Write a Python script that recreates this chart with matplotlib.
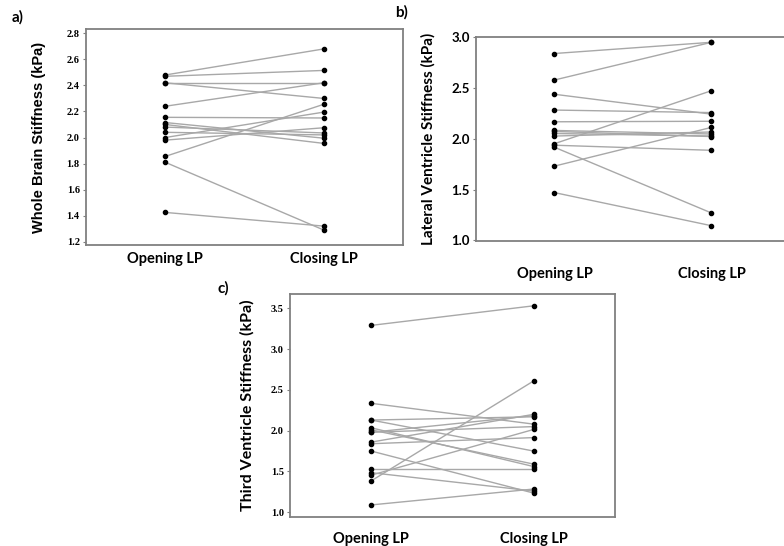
import matplotlib
matplotlib.use("Agg")
import matplotlib.pyplot as plt

# --- data (paired opening / closing LP values) ---
GROUPS = ["Opening LP", "Closing LP"]

WB_OPEN = [2.48, 2.47, 2.42, 2.42, 2.24, 2.155, 2.115, 2.10, 2.08, 2.04, 2.00, 1.98, 1.855, 1.81, 1.425]
WB_CLOSE = [2.68, 2.515, 2.42, 2.30, 2.42, 2.15, 1.995, 1.955, 2.035, 2.02, 2.195, 2.075, 2.255, 1.29, 1.32]
WB_TICKS = [1.2, 1.4, 1.6, 1.8, 2.0, 2.2, 2.4, 2.6, 2.8]

LV_OPEN = [2.835, 2.575, 2.435, 2.28, 2.165, 2.08, 2.07, 2.05, 2.025, 1.95, 1.935, 1.915, 1.73, 1.47]
LV_CLOSE = [2.945, 2.945, 2.24, 2.255, 2.17, 2.045, 2.02, 2.025, 2.065, 2.47, 1.885, 1.27, 2.11, 1.145]
LV_TICKS = [1.0, 1.5, 2.0, 2.5, 3.0]

TV_OPEN = [3.29, 2.335, 2.13, 2.13, 2.035, 2.01, 1.98, 1.98, 1.86, 1.84, 1.75, 1.525, 1.485, 1.455, 1.385, 1.09]
TV_CLOSE = [3.53, 2.08, 2.17, 1.75, 1.56, 1.59, 2.185, 2.05, 2.20, 1.915, 1.235, 1.525, 1.26, 2.015, 2.61, 1.285]
TV_TICKS = [1.0, 1.5, 2.0, 2.5, 3.0, 3.5]

LINE_COLOR = "#a8a8a8"
SPINE_COLOR = "#808080"
SANS = ["Lato", "DejaVu Sans"]
SERIF = ["Liberation Serif", "DejaVu Serif"]


def paired_panel(fig, rect, opening, closing, ticks, ylim, ylabel, tick_font,
                 tick_size, xpad, label_x, label_size, letter, letter_xy, label_font):
    ax = fig.add_axes(rect)
    for o, c in zip(opening, closing):
        ax.plot([1, 2], [o, c], color=LINE_COLOR, linewidth=1.0, zorder=1)
    ax.scatter([1] * len(opening), opening, s=9, color="black", zorder=2)
    ax.scatter([2] * len(closing), closing, s=9, color="black", zorder=2)
    ax.set_xlim(0.5, 2.5)
    ax.set_ylim(*ylim)
    ax.set_xticks([1, 2])
    ax.set_xticklabels(GROUPS, fontfamily=SANS, fontweight="bold", fontsize=10.5)
    ax.tick_params(axis="x", length=0, pad=xpad)
    ax.set_yticks(ticks)
    ax.set_yticklabels([f"{t:.1f}" for t in ticks], fontfamily=tick_font,
                       fontweight="bold", fontsize=tick_size)
    ax.tick_params(axis="y", length=2.5, width=0.8, color=SPINE_COLOR, pad=2)
    for sp in ax.spines.values():
        sp.set_color(SPINE_COLOR)
        sp.set_linewidth(1.3)
    ax.set_ylabel(ylabel, fontfamily=label_font, fontweight="bold", fontsize=label_size)
    ax.yaxis.set_label_coords(label_x, 0.5)
    fig.text(letter_xy[0], letter_xy[1], letter, fontfamily=SANS, fontweight="bold",
             fontsize=11, ha="left", va="center")
    return ax


fig = plt.figure(figsize=(7.84, 5.46), dpi=100)

paired_panel(fig, [0.1097, 0.5513, 0.4043, 0.3951], WB_OPEN, WB_CLOSE, WB_TICKS,
             (1.175, 2.831), "Whole Brain Stiffness (kPa)", SERIF, 7.5, 5,
             -0.125, 10.5, "a)", (0.015, 0.968), ["Liberation Sans", "DejaVu Sans"])

paired_panel(fig, [0.6071, 0.5586, 0.4005, 0.3742], LV_OPEN, LV_CLOSE, LV_TICKS,
             (0.995, 3.0), "Lateral Ventricle Stiffness (kPa)", SANS, 9.5, 19,
             -0.13, 11, "b)", (0.504, 0.978), SANS)

paired_panel(fig, [0.3699, 0.0537, 0.4145, 0.4079], TV_OPEN, TV_CLOSE, TV_TICKS,
             (0.946, 3.675), "Third Ventricle Stiffness (kPa)", SERIF, 7.5, 11,
             -0.11, 11.5, "c)", (0.277, 0.471), SANS)

fig.savefig("out.png", dpi=100)
